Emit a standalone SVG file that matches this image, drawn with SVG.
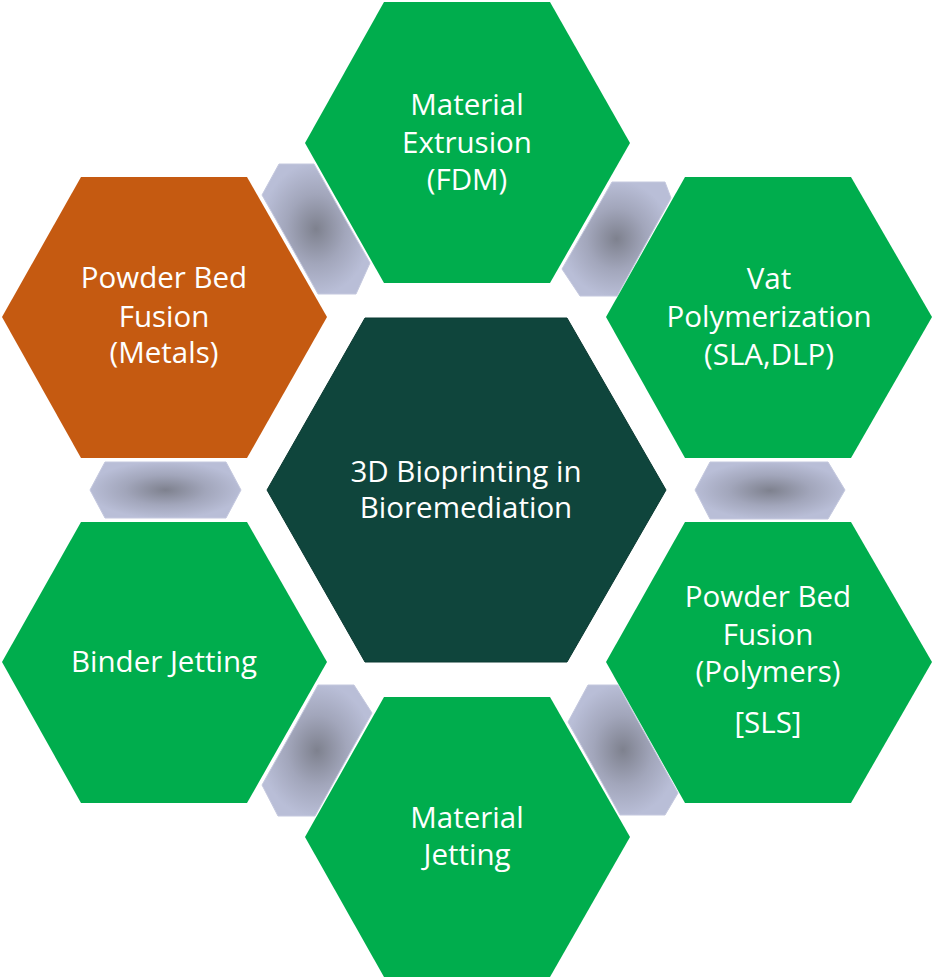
<svg xmlns="http://www.w3.org/2000/svg" width="934" height="980" viewBox="0 0 934 980">
  <defs>
    <radialGradient id="gr" cx="0.5" cy="0.5" r="0.6">
      <stop offset="0" stop-color="#7e818e"/>
      <stop offset="0.45" stop-color="#a2a6bb"/>
      <stop offset="0.85" stop-color="#b9bed7"/>
    </radialGradient>
    <style>
      .con { fill: url(#gr); stroke: #c4c8de; stroke-width: 1; }
      .green { fill: #00AD4D; }
      .orange { fill: #C55A11; }
      .core { fill: #0F453C; stroke: #0b3a32; stroke-width: 1; }
      .lbl { fill: #ffffff; font-family: "Open Sans", "Noto Sans", sans-serif; font-size: 29.5px; text-anchor: middle; }
    </style>
  </defs>
  <rect width="934" height="980" fill="#ffffff"/>

  <g id="connectors">
    <polygon class="con" points="262,195 279,164 314,164 370,263 356,294 318,294"/>
    <polygon class="con" points="562,269 612,182 665,182 671,198 617,296 580,296"/>
    <polygon class="con" points="695,490 710,462 828,462 845,490 828,519 710,519"/>
    <polygon class="con" points="568,722 588,685 618,685 678,793 665,815 620,815"/>
    <polygon class="con" points="262,785 318,685 354,685 372,713 315,816 278,816"/>
    <polygon class="con" points="90,490 105,462 226,462 241,490 226,518 105,518"/>
  </g>

  <g id="node-center">
    <polygon class="core" points="267,490 365,318 567,318 666,490 567,662 365,662"/>
    <text class="lbl" x="466" y="482">3D Bioprinting in</text>
    <text class="lbl" x="466" y="518">Bioremediation</text>
  </g>

  <g id="node-material-extrusion">
    <polygon class="green" points="305,143 384,2 550,2 630,143 550,283 384,283"/>
    <text class="lbl" x="467" y="115">Material</text>
    <text class="lbl" x="467" y="153">Extrusion</text>
    <text class="lbl" x="467" y="190">(FDM)</text>
  </g>

  <g id="node-vat">
    <polygon class="green" points="606,317 685,177 851,177 932,317 851,458 685,458"/>
    <text class="lbl" x="769" y="289">Vat</text>
    <text class="lbl" x="769" y="327">Polymerization</text>
    <text class="lbl" x="769" y="365">(SLA,DLP)</text>
  </g>

  <g id="node-pbf-polymers">
    <polygon class="green" points="606,662 685,522 851,522 932,662 851,803 685,803"/>
    <text class="lbl" x="768" y="607">Powder Bed</text>
    <text class="lbl" x="768" y="645">Fusion</text>
    <text class="lbl" x="768" y="682">(Polymers)</text>
    <text class="lbl" x="768" y="733">[SLS]</text>
  </g>

  <g id="node-material-jetting">
    <polygon class="green" points="305,837 384,697 550,697 630,837 550,977 384,977"/>
    <text class="lbl" x="467" y="828">Material</text>
    <text class="lbl" x="467" y="865">Jetting</text>
  </g>

  <g id="node-binder">
    <polygon class="green" points="2,662 81,522 247,522 327,662 247,803 81,803"/>
    <text class="lbl" x="164" y="672">Binder Jetting</text>
  </g>

  <g id="node-pbf-metals">
    <polygon class="orange" points="2,317 81,177 247,177 327,317 247,458 81,458"/>
    <text class="lbl" x="164" y="288">Powder Bed</text>
    <text class="lbl" x="164" y="327">Fusion</text>
    <text class="lbl" x="164" y="363">(Metals)</text>
  </g>
</svg>
